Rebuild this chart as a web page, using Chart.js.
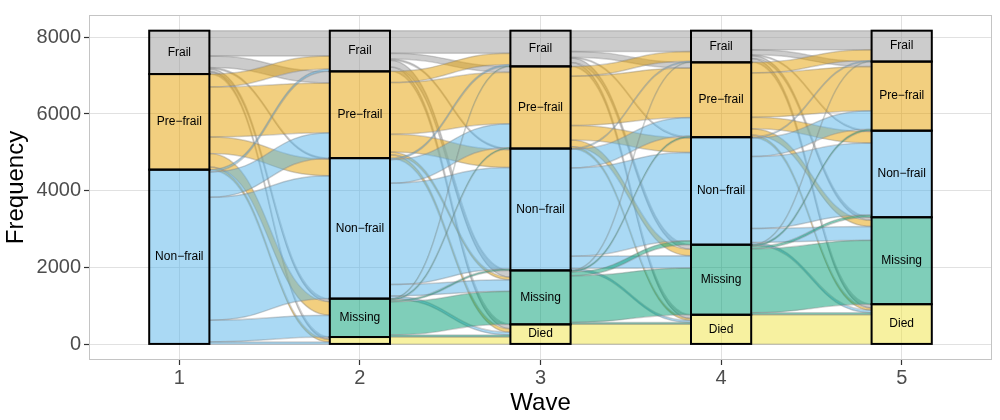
<!DOCTYPE html>
<html>
<head>
<meta charset="utf-8">
<script src="https://cdn.jsdelivr.net/npm/chart.js@4.4.1/dist/chart.umd.min.js"></script>
<style>
  html, body { margin: 0; padding: 0; background: #fff; }
  #chart { display: block; }
</style>
</head>
<body>
<canvas id="chart" width="1000" height="420"></canvas>
<script>
// states, top of each stack first
const states = ['Frail', 'Pre−frail', 'Non−frail', 'Missing', 'Died'];
const waves = [1, 2, 3, 4, 5];
const xTicks = [1, 2, 3, 4, 5];
const yTicks = [0, 2000, 4000, 6000, 8000];

// people in each state at each wave
const frail    = [1130, 1060, 930, 825, 805];
const preFrail = [2490, 2260, 2140, 1950, 1800];
const nonFrail = [4550, 3660, 3175, 2800, 2255];
const missing  = [0, 1000, 1405, 1825, 2265];
const died     = [0, 190, 520, 770, 1045];

// transitions between waves, rows = from state, columns = to state
// (order Frail, Pre-frail, Non-frail, Missing, Died)
const flow12 = [
  [660, 300, 30, 80, 60],
  [340, 1300, 430, 350, 70],
  [60, 660, 3200, 570, 60],
  [0, 0, 0, 0, 0],
  [0, 0, 0, 0, 0]
];
const flow23 = [
  [590, 150, 30, 175, 115],
  [290, 1345, 465, 70, 90],
  [40, 615, 2640, 295, 70],
  [10, 30, 40, 865, 55],
  [0, 0, 0, 0, 190]
];
const flow34 = [
  [540, 150, 20, 120, 100],
  [255, 1285, 380, 170, 50],
  [20, 485, 2300, 320, 50],
  [10, 30, 100, 1215, 50],
  [0, 0, 0, 0, 520]
];
const flow45 = [
  [495, 130, 20, 80, 100],
  [280, 1150, 300, 160, 60],
  [20, 485, 1875, 360, 60],
  [10, 35, 60, 1665, 55],
  [0, 0, 0, 0, 770]
];

const counts = [frail, preFrail, nonFrail, missing, died];
const transitions = [flow12, flow23, flow34, flow45];
const baseColors = ['153,153,153', '230,159,0', '86,180,233', '0,158,115', '240,228,66'];
const BAR_W = 1 / 3;
const FONT = '"Liberation Sans", Arial, Helvetica, sans-serif';

// top edge (in counts) of every stratum at wave index w
function stratumTops(w) {
  let top = counts.reduce((s, c) => s + c[w], 0);
  return counts.map(c => { const t = top; top -= c[w]; return t; });
}

const flowsPlugin = {
  id: 'flows',
  beforeDatasetsDraw(chart) {
    const { ctx, chartArea, scales: { x, y } } = chart;
    ctx.save();
    ctx.beginPath();
    ctx.rect(chartArea.left, chartArea.top, chartArea.width, chartArea.height);
    ctx.clip();
    transitions.forEach((mat, g) => {
      const x0 = x.getPixelForValue(waves[g] + BAR_W / 2);
      const x1 = x.getPixelForValue(waves[g + 1] - BAR_W / 2);
      const xm = (x0 + x1) / 2;
      const topL = stratumTops(g);
      const topR = stratumTops(g + 1);
      for (let i = 0; i < states.length; i++) {
        for (let j = 0; j < states.length; j++) {
          const n = mat[i][j];
          if (!n) continue;
          let outTop = topL[i];
          for (let k = 0; k < j; k++) outTop -= mat[i][k];
          let inTop = topR[j];
          for (let k = 0; k < i; k++) inTop -= mat[k][j];
          const a = y.getPixelForValue(outTop), b = y.getPixelForValue(outTop - n);
          const c = y.getPixelForValue(inTop), d = y.getPixelForValue(inTop - n);
          ctx.beginPath();
          ctx.moveTo(x0, a);
          ctx.bezierCurveTo(xm, a, xm, c, x1, c);
          ctx.lineTo(x1, d);
          ctx.bezierCurveTo(xm, d, xm, b, x0, b);
          ctx.closePath();
          ctx.fillStyle = 'rgba(' + baseColors[i] + ',0.5)';
          ctx.fill();
          ctx.strokeStyle = 'rgba(128,128,128,0.35)';
          ctx.lineWidth = 1.5;
          ctx.stroke();
        }
      }
    });
    ctx.restore();
  },
  afterDatasetsDraw(chart) {
    const { ctx, chartArea } = chart;
    ctx.save();
    // panel border
    ctx.strokeStyle = '#c4c4c4';
    ctx.lineWidth = 1;
    ctx.strokeRect(chartArea.left + 0.5, chartArea.top + 0.5, chartArea.width - 1, chartArea.height - 1);
    // stratum outlines, centred on the box edges
    ctx.strokeStyle = '#000';
    ctx.lineWidth = 2;
    chart.data.datasets.forEach((ds, di) => {
      chart.getDatasetMeta(di).data.forEach((el, k) => {
        if (!counts[ds.stateIndex][k]) return;
        const { x, y, base, width } = el.getProps(['x', 'y', 'base', 'width'], true);
        ctx.strokeRect(x - width / 2, Math.min(y, base), width, Math.abs(base - y));
      });
    });
    // stratum labels
    ctx.fillStyle = '#000';
    ctx.font = '12px ' + FONT;
    ctx.textAlign = 'center';
    ctx.textBaseline = 'middle';
    chart.data.datasets.forEach((ds, di) => {
      chart.getDatasetMeta(di).data.forEach((el, k) => {
        const v = counts[ds.stateIndex][k];
        if (!v || v < 300) return;
        const p = el.getCenterPoint();
        ctx.fillText(ds.label, p.x, p.y);
      });
    });
    ctx.restore();
  }
};

// bottom of the stack first for Chart.js stacking
const datasets = states.map((s, i) => ({
  type: 'bar',
  label: s,
  stateIndex: i,
  data: waves.map((w, k) => ({ x: w, y: counts[i][k] || null })),
  backgroundColor: 'rgba(' + baseColors[i] + ',0.5)',
  borderWidth: 0,
  barPercentage: BAR_W,
  categoryPercentage: 1
})).reverse();

new Chart(document.getElementById('chart'), {
  type: 'bar',
  data: { datasets },
  plugins: [flowsPlugin],
  options: {
    responsive: false,
    animation: false,
    devicePixelRatio: 1,
    layout: { padding: { top: 7, right: 8, left: 0, bottom: 0 } },
    plugins: { legend: { display: false }, tooltip: { enabled: false } },
    scales: {
      x: {
        type: 'linear',
        min: 0.5,
        max: 5.5,
        offset: false,
        stacked: true,
        afterBuildTicks: s => { s.ticks = xTicks.map(v => ({ value: v })); },
        afterFit: s => { s.height = 60; },
        grid: { offset: false, color: '#d9d9d9', lineWidth: 0.8, borderDash: [2, 2],
                tickColor: '#333', tickLength: 5, tickWidth: 1.2, tickBorderDash: [10, 0] },
        border: { display: false },
        ticks: { color: '#4d4d4d', font: { size: 20, family: FONT }, padding: 1, maxRotation: 0,
                 callback: v => String(v) },
        title: { display: true, text: 'Wave', color: '#000', font: { size: 24, family: FONT },
                 padding: { top: 0, bottom: 2 } }
      },
      y: {
        type: 'linear',
        stacked: true,
        min: -408.5,
        max: 8578.5,
        afterBuildTicks: s => { s.ticks = yTicks.map(v => ({ value: v })); },
        afterFit: s => { s.width = 89; },
        grid: { color: '#d9d9d9', lineWidth: 0.8, borderDash: [2, 2],
                tickColor: '#333', tickLength: 5, tickWidth: 1.2, tickBorderDash: [10, 0] },
        border: { display: false },
        ticks: { color: '#4d4d4d', font: { size: 20, family: FONT }, padding: 3,
                 callback: v => String(v) },
        title: { display: true, text: 'Frequency', color: '#000', font: { size: 24, family: FONT },
                 padding: { top: 2, bottom: 0 } }
      }
    }
  }
});
</script>
</body>
</html>
